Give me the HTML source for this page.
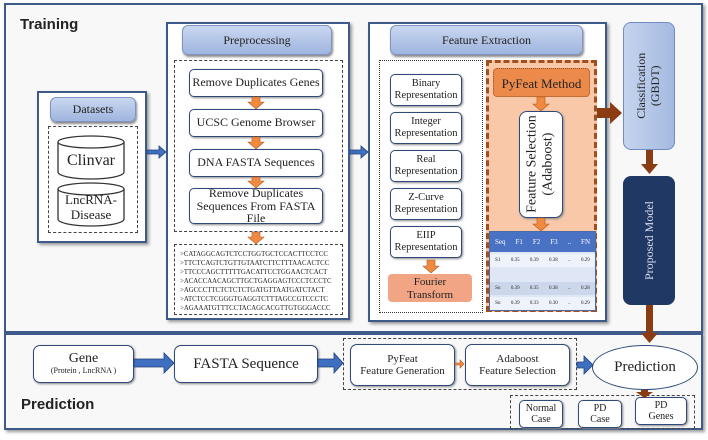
<!DOCTYPE html>
<html><head><meta charset="utf-8"><style>
body{margin:0;width:708px;height:440px;background:#fff;position:relative;overflow:hidden;font-family:"Liberation Serif",serif;color:#222}
div{position:absolute;box-sizing:border-box}
.panel{border:2px solid #3d5a8a;background:#fafafa;box-shadow:2px 2px 3px #999}
.hdr{background:linear-gradient(#c9d7f0,#9fb5de);border:1px solid #7d94c4;border-radius:6px;text-align:center;font-size:12px;display:flex;align-items:center;justify-content:center;box-shadow:1px 2px 2px #888}
.dash{border:1px dashed #444}
.box{background:#fff;border:1.5px solid #2f4a7a;border-radius:5px;text-align:center;display:flex;align-items:center;justify-content:center;font-size:12px;line-height:1.1;box-shadow:1px 1px 2px #888}
.sans{font-family:"Liberation Sans",sans-serif;font-weight:bold}
</style></head><body>
<div class="panel" style="left:4px;top:3px;width:699px;height:330px;background:#f8f8f8"></div>
<div class="panel" style="left:4px;top:333px;width:699px;height:97px;background:#f8f8f8"></div>
<div class="sans" style="left:20px;top:16px;font-size:15px">Training</div>
<div class="sans" style="left:21px;top:396px;font-size:15px">Prediction</div>

<!-- datasets -->
<div class="panel" style="left:37px;top:91px;width:110px;height:152px;background:#fff"></div>
<div class="hdr" style="left:50px;top:97px;width:86px;height:25px">Datasets</div>
<div class="dash" style="left:48px;top:126px;width:90px;height:107px"></div>
<svg style="position:absolute;left:0;top:0" width="708" height="440">
<g fill="#fff" stroke="#333" stroke-width="1.3">
<path d="M58 142 v30 a33 7 0 0 0 66 0 v-30"/><ellipse cx="91" cy="142" rx="33" ry="6"/>
<path d="M58 189 v30 a33 7 0 0 0 66 0 v-30"/><ellipse cx="91" cy="189" rx="33" ry="6"/>
</g></svg>
<div style="left:58px;top:152px;width:66px;text-align:center;font-size:16px">Clinvar</div>
<div style="left:58px;top:193px;width:66px;text-align:center;font-size:13px;line-height:1.15">LncRNA-<br>Disease</div>

<!-- preprocessing -->
<div class="panel" style="left:166px;top:22px;width:184px;height:298px;background:#fff"></div>
<div class="hdr" style="left:182px;top:25px;width:150px;height:30px">Preprocessing</div>
<div class="dash" style="left:174px;top:60px;width:169px;height:172px"></div>
<div class="box" style="left:189px;top:69px;width:134px;height:28px">Remove Duplicates Genes</div>
<div class="box" style="left:189px;top:109px;width:134px;height:28px">UCSC Genome Browser</div>
<div class="box" style="left:189px;top:149px;width:134px;height:28px">DNA FASTA Sequences</div>
<div class="box" style="left:189px;top:188px;width:134px;height:36px;line-height:1.05">Remove Duplicates Sequences From FASTA File</div>
<div class="dash" style="left:174px;top:244px;width:169px;height:71px;font-size:6.8px;line-height:9px;padding:5px 0 0 5px;white-space:pre;overflow:hidden">>CATAGGCAGTCTCCTGGTGCTCCACTTCCTCC
>TTCTCAGTCTGTTGTAATCTTCTTTAACACTCC
>TTCCCAGCTTTTTGACATTCCTGGAACTCACT
>ACACCAACAGCTTGCTGAGGAGTCCCTCCCTC
>AGCCCTTCTCTCTCTGATGTTAATGATCTACT
>ATCTCCTCGGGTGAGGTCTTTAGCCGTCCCTC
>AGAAATGTTTCCTACAGCACGTTGTGGGACCC</div>

<!-- feature extraction -->
<div class="panel" style="left:368px;top:22px;width:239px;height:300px;background:#fff"></div>
<div class="hdr" style="left:390px;top:25px;width:193px;height:30px">Feature Extraction</div>
<div class="dash" style="left:379px;top:60px;width:104px;height:253px;border:1.5px dotted #333"></div>
<div class="box" style="left:390px;top:74px;width:72px;height:32px;font-size:10.5px">Binary<br>Representation</div>
<div class="box" style="left:390px;top:112px;width:72px;height:32px;font-size:10.5px">Integer<br>Representation</div>
<div class="box" style="left:390px;top:150px;width:72px;height:32px;font-size:10.5px">Real<br>Representation</div>
<div class="box" style="left:390px;top:188px;width:72px;height:32px;font-size:10.5px">Z-Curve<br>Representation</div>
<div class="box" style="left:390px;top:226px;width:72px;height:32px;font-size:10.5px">EIIP<br>Representation</div>
<div style="left:388px;top:274px;width:84px;height:28px;background:#f2a585;border-radius:4px;text-align:center;font-size:11px;line-height:1.15;padding-top:2px">Fourier<br>Transform</div>
<div style="left:486px;top:60px;width:111px;height:252px;background:#f8c8a8;border:3px dashed #a05020"></div>
<div style="left:493px;top:68px;width:97px;height:29px;background:#ec8a4c;border:1px dotted #a05020;border-radius:4px;text-align:center;font-size:13px;line-height:29px">PyFeat Method</div>
<div class="box" style="left:519px;top:111px;width:44px;height:107px;border-radius:8px"><div style="position:static;transform:rotate(-90deg);white-space:nowrap;font-size:14px;line-height:1.15;text-align:center">Feature Selection<br>(Adaboost)</div></div>
<div style="left:489px;top:231px;width:107px;height:80px;background:#dfe6f5;border:1px solid #4a6aa8;font-size:5px">
<div style="left:0;top:0;width:105px;height:20px;background:#4a72c4;color:#fff;display:flex;justify-content:space-around;align-items:center;font-size:7px"><span>Seq</span><span>F1</span><span>F2</span><span>F3</span><span>..</span><span>FN</span></div>
<div style="left:0;top:22px;width:105px;height:13px;background:#eef2fa;display:flex;justify-content:space-around;align-items:center"><span>S1</span><span>0.35</span><span>0.39</span><span>0.38</span><span>..</span><span>0.29</span></div>
<div style="left:0;top:50px;width:105px;height:13px;background:#cdd7ec;display:flex;justify-content:space-around;align-items:center"><span>Sn</span><span>0.39</span><span>0.35</span><span>0.38</span><span>..</span><span>0.28</span></div>
<div style="left:0;top:65px;width:105px;height:13px;background:#eef2fa;display:flex;justify-content:space-around;align-items:center"><span>Sn</span><span>0.39</span><span>0.33</span><span>0.30</span><span>..</span><span>0.29</span></div>
</div>

<!-- classification -->
<div style="left:623px;top:22px;width:52px;height:128px;background:linear-gradient(90deg,#c5d4ee,#a4bae0);border:1.5px solid #6f8cc4;border-radius:8px;display:flex;align-items:center;justify-content:center"><div style="position:static;transform:rotate(-90deg);white-space:nowrap;font-size:12px;text-align:center;line-height:1.15">Classification<br>(GBDT)</div></div>
<div style="left:623px;top:176px;width:52px;height:129px;background:#1f3864;border-radius:8px;display:flex;align-items:center;justify-content:center"><div style="position:static;transform:rotate(-90deg);white-space:nowrap;font-size:12px;color:#dde">Proposed Model</div></div>

<!-- prediction row -->
<div class="box" style="left:33px;top:345px;width:101px;height:38px;font-size:14px;flex-direction:column;border-radius:7px;line-height:1.05">Gene<span style="font-size:8px">(Protein , LncRNA )</span></div>
<div class="box" style="left:174px;top:345px;width:144px;height:38px;font-size:15px;border-radius:7px">FASTA Sequence</div>
<div class="dash" style="left:343px;top:338px;width:234px;height:52px"></div>
<div class="box" style="left:350px;top:344px;width:105px;height:42px;font-size:11px;border-radius:7px">PyFeat<br>Feature Generation</div>
<div class="box" style="left:465px;top:344px;width:105px;height:42px;font-size:11px;border-radius:7px">Adaboost<br>Feature Selection</div>
<div style="left:592px;top:345px;width:106px;height:45px;border:1.5px solid #2f4a7a;border-radius:50%;background:#fff;text-align:center;line-height:42px;font-size:15px">Prediction</div>
<div class="dash" style="left:510px;top:395px;width:185px;height:34px"></div>
<div class="box" style="left:519px;top:400px;width:44px;height:28px;font-size:10px">Normal<br>Case</div>
<div class="box" style="left:578px;top:400px;width:44px;height:28px;font-size:10px">PD<br>Case</div>
<div class="box" style="left:635px;top:397px;width:52px;height:28px;font-size:10px">PD<br>Genes</div>

<svg style="position:absolute;left:0;top:0" width="708" height="440">
<g fill="#3f6fc0" stroke="#23407a" stroke-width="0.8">
<path d="M147 150 h12 v-4 l7 6 l-7 6 v-4 h-12z"/>
<path d="M350 150 h11 v-4 l7 6 l-7 6 v-4 h-11z"/>
<path d="M134 359 h30 v-6 l10 10 l-10 10 v-6 h-30z"/>
<path d="M318 359 h16 v-6 l9 10 l-9 10 v-6 h-16z"/>
<path d="M577 362 h7 v-6 l9 9 l-9 9 v-6 h-7z"/>
</g>
<g fill="#f08a40" stroke="#b05a20" stroke-width="0.6">
<path d="M252 97 h8 v5 h4 l-8 7 l-8 -7 h4z"/>
<path d="M252 137 h8 v5 h4 l-8 7 l-8 -7 h4z"/>
<path d="M252 177 h8 v4 h4 l-8 7 l-8 -7 h4z"/>
<path d="M252 232 h8 v5 h4 l-8 7 l-8 -7 h4z"/>
<path d="M427 260 h8 v6 h4 l-8 7 l-8 -7 h4z"/>
<path d="M537 97 h8 v7 h4 l-8 7 l-8 -7 h4z"/>
<path d="M537 218 h8 v6 h4 l-8 7 l-8 -7 h4z"/>
<path d="M455 363 h5 v-3 l4 4 l-4 4 v-3 h-5z"/>
</g>
<g fill="#8a3c12">
<path d="M597 108 h13 v-6 l12 11 l-12 11 v-6 h-13z"/>
<path d="M646 150 h7 v14 h5 l-8.5 10 l-8.5 -10 h5z"/>
<path d="M646 305 h7 v28 h5 l-8.5 10 l-8.5 -10 h5z"/>
<path d="M641 390 h7 v2 h5 l-8.5 6 l-8.5 -6 h5z"/>
</g>
</svg>
</body></html>
